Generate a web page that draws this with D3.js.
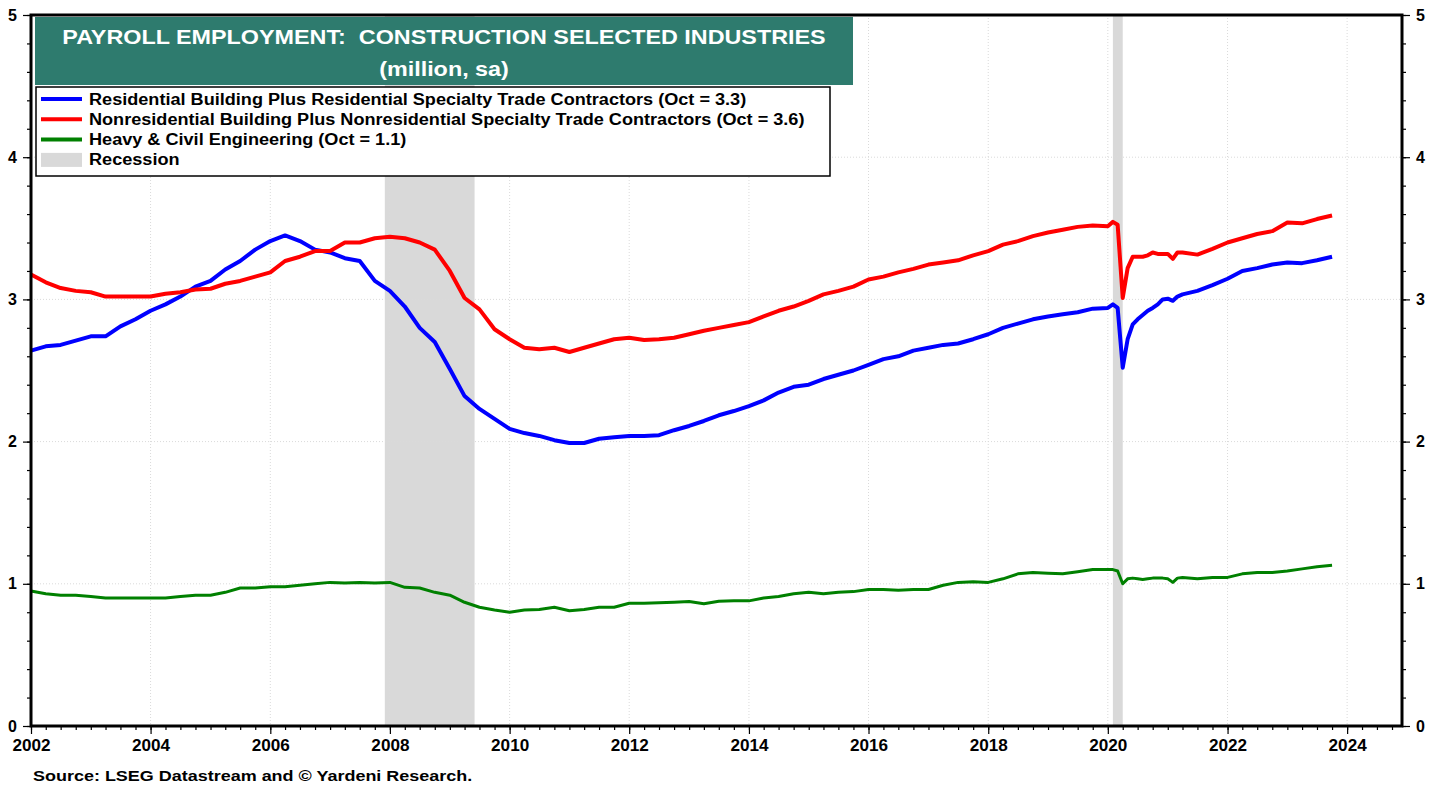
<!DOCTYPE html>
<html>
<head>
<meta charset="utf-8">
<script src="https://cdn.jsdelivr.net/npm/d3@7/dist/d3.min.js"></script>
<style>
  html, body { margin: 0; padding: 0; background: #fff; }
  svg { display: block; font-family: "Liberation Sans", Arial, sans-serif; }
  .tick text { font-weight: bold; font-size: 16px; fill: #000; }
</style>
</head>
<body>
<svg id="chart" width="1443" height="787"></svg>
<script>
// ---- data (million, sa) ----
// quarterly 2002-2019, monthly through the 2020 dip, then quarterly to Oct 2023
const dates = [
  "2002-01","2002-04","2002-07","2002-10","2003-01","2003-04","2003-07","2003-10",
  "2004-01","2004-04","2004-07","2004-10","2005-01","2005-04","2005-07","2005-10",
  "2006-01","2006-04","2006-07","2006-10","2007-01","2007-04","2007-07","2007-10",
  "2008-01","2008-04","2008-07","2008-10","2009-01","2009-04","2009-07","2009-10",
  "2010-01","2010-04","2010-07","2010-10","2011-01","2011-04","2011-07","2011-10",
  "2012-01","2012-04","2012-07","2012-10","2013-01","2013-04","2013-07","2013-10",
  "2014-01","2014-04","2014-07","2014-10","2015-01","2015-04","2015-07","2015-10",
  "2016-01","2016-04","2016-07","2016-10","2017-01","2017-04","2017-07","2017-10",
  "2018-01","2018-04","2018-07","2018-10","2019-01","2019-04","2019-07","2019-10",
  "2020-01","2020-02","2020-03","2020-04","2020-05","2020-06","2020-07","2020-08",
  "2020-09","2020-10","2020-11","2020-12","2021-01","2021-02","2021-03","2021-04",
  "2021-07","2021-10","2022-01","2022-04","2022-07","2022-10",
  "2023-01","2023-04","2023-07","2023-10"
];

const residential = [
  2.64, 2.67, 2.68, 2.71, 2.74, 2.74, 2.81, 2.86,
  2.92, 2.965, 3.02, 3.09, 3.13, 3.21, 3.27, 3.35,
  3.41, 3.45, 3.41, 3.35, 3.33, 3.29, 3.27, 3.13,
  3.06, 2.95, 2.80, 2.70, 2.51, 2.32, 2.23, 2.16,
  2.09, 2.06, 2.04, 2.01, 1.99, 1.99, 2.02, 2.03,
  2.04, 2.04, 2.045, 2.08, 2.11, 2.145, 2.185, 2.215,
  2.25, 2.29, 2.345, 2.385, 2.40, 2.44, 2.47, 2.50,
  2.54, 2.58, 2.60, 2.64, 2.66, 2.68, 2.69, 2.72,
  2.755, 2.80, 2.83, 2.86, 2.88, 2.895, 2.91, 2.935,
  2.94, 2.965, 2.94, 2.52, 2.72, 2.825, 2.86, 2.89,
  2.92, 2.94, 2.965, 3.0, 3.005, 2.99, 3.02, 3.035,
  3.06, 3.10, 3.145, 3.20, 3.22, 3.245,
  3.26, 3.255, 3.275, 3.30
];

const nonresidential = [
  3.175, 3.12, 3.08, 3.06, 3.05, 3.02, 3.02, 3.02,
  3.02, 3.04, 3.05, 3.07, 3.075, 3.11, 3.13, 3.16,
  3.19, 3.27, 3.30, 3.34, 3.34, 3.40, 3.40, 3.43,
  3.44, 3.43, 3.40, 3.35, 3.20, 3.01, 2.93, 2.79,
  2.72, 2.66, 2.65, 2.66, 2.63, 2.66, 2.69, 2.72,
  2.73, 2.715, 2.72, 2.73, 2.755, 2.78, 2.80, 2.82,
  2.84, 2.88, 2.92, 2.95, 2.99, 3.035, 3.06, 3.09,
  3.14, 3.16, 3.19, 3.215, 3.245, 3.26, 3.275, 3.31,
  3.34, 3.385, 3.41, 3.445, 3.47, 3.49, 3.51, 3.52,
  3.515, 3.545, 3.525, 3.01, 3.22, 3.30, 3.30, 3.30,
  3.31, 3.33, 3.32, 3.32, 3.32, 3.285, 3.33, 3.33,
  3.315, 3.355, 3.40, 3.43, 3.46, 3.48,
  3.54, 3.535, 3.565, 3.59
];

const heavyCivil = [
  0.95, 0.93, 0.92, 0.92, 0.91, 0.90, 0.90, 0.90,
  0.90, 0.90, 0.91, 0.92, 0.92, 0.94, 0.97, 0.97,
  0.98, 0.98, 0.99, 1.00, 1.01, 1.005, 1.01, 1.005,
  1.01, 0.975, 0.97, 0.94, 0.92, 0.87, 0.835, 0.816,
  0.80, 0.815, 0.82, 0.835, 0.81, 0.82, 0.835, 0.835,
  0.863, 0.863, 0.866, 0.87, 0.875, 0.86, 0.877, 0.88,
  0.88, 0.90, 0.91, 0.93, 0.94, 0.93, 0.94, 0.945,
  0.96, 0.96, 0.955, 0.96, 0.96, 0.99, 1.01, 1.015,
  1.01, 1.035, 1.07, 1.08, 1.075, 1.07, 1.085, 1.10,
  1.10, 1.10, 1.09, 1.00, 1.035, 1.04, 1.035, 1.03,
  1.035, 1.04, 1.04, 1.04, 1.035, 1.01, 1.04, 1.045,
  1.035, 1.045, 1.045, 1.07, 1.08, 1.08,
  1.09, 1.105, 1.12, 1.13
];

const recessions = [["2007-12", "2009-06"], ["2020-02", "2020-04"]];

const yTicks = [0, 1, 2, 3, 4, 5];

const seriesNames = [
  "Residential Building Plus Residential Specialty Trade Contractors (Oct = 3.3)",
  "Nonresidential Building Plus Nonresidential Specialty Trade Contractors (Oct = 3.6)",
  "Heavy & Civil Engineering (Oct = 1.1)"
];
const seriesColors = ["#0000ff", "#ff0000", "#008000"];
const seriesWidths = [4, 4, 3];

// ---- layout ----
const plot = { left: 31, right: 1402, top: 15, bottom: 726 };
const parseMonth = d3.timeParse("%Y-%m");
// the reference fonts are drawn a bit wider than Liberation Sans
const STRETCH_TITLE = 1.167;
const STRETCH_LEGEND = 1.131;
const STRETCH_SOURCE = 1.159;
const STRETCH_TICK = 1.07;

function stretch(sel, k) {
  sel.each(function () {
    const w = this.getComputedTextLength();
    d3.select(this)
      .attr("textLength", w * k)
      .attr("lengthAdjust", "spacingAndGlyphs");
  });
}

const svg = d3.select("#chart");

const x = d3.scaleTime()
  .domain([new Date(2002, 0, 1), new Date(2024, 11, 1)])
  .range([plot.left, plot.right]);

const y = d3.scaleLinear()
  .domain([0, 5])
  .range([plot.bottom, plot.top]);

// recession shading
svg.append("g")
  .selectAll("rect")
  .data(recessions)
  .join("rect")
  .attr("x", d => x(parseMonth(d[0])))
  .attr("width", d => x(parseMonth(d[1])) - x(parseMonth(d[0])))
  .attr("y", plot.top)
  .attr("height", plot.bottom - plot.top)
  .attr("fill", "#d9d9d9");

// grid lines
const grid = svg.append("g").attr("stroke", "#dadada").attr("stroke-dasharray", "1,2");
grid.selectAll(".gx")
  .data(d3.timeYear.every(2).range(new Date(2004, 0, 1), new Date(2025, 0, 1)))
  .join("line")
  .attr("x1", d => x(d)).attr("x2", d => x(d))
  .attr("y1", plot.top).attr("y2", plot.bottom);
grid.selectAll(".gy")
  .data([1, 2, 3, 4])
  .join("line")
  .attr("x1", plot.left).attr("x2", plot.right)
  .attr("y1", d => y(d)).attr("y2", d => y(d));

// series lines
const allSeries = [residential, nonresidential, heavyCivil];
const line = d3.line()
  .x((d, i) => x(parseMonth(dates[i])))
  .y(d => y(d));

svg.append("g")
  .selectAll("path")
  .data(allSeries)
  .join("path")
  .attr("fill", "none")
  .attr("stroke", (d, i) => seriesColors[i])
  .attr("stroke-width", (d, i) => seriesWidths[i])
  .attr("stroke-linejoin", "round")
  .attr("d", line);

// ---- axes ----
// y minor ticks every 0.2
const yMinor = d3.range(0, 5.01, 0.2);
svg.append("g")
  .attr("transform", `translate(${plot.left},0)`)
  .call(d3.axisLeft(y).tickValues(yMinor).tickSize(4).tickFormat(""))
  .call(g => g.select(".domain").remove());
svg.append("g")
  .attr("transform", `translate(${plot.right},0)`)
  .call(d3.axisRight(y).tickValues(yMinor).tickSize(4).tickFormat(""))
  .call(g => g.select(".domain").remove());

svg.append("g")
  .attr("transform", `translate(${plot.left},0)`)
  .call(d3.axisLeft(y).tickValues(yTicks).tickSize(8).tickPadding(6).tickFormat(d3.format("d")))
  .call(g => g.select(".domain").remove());
svg.append("g")
  .attr("transform", `translate(${plot.right},0)`)
  .call(d3.axisRight(y).tickValues(yTicks).tickSize(8).tickPadding(6).tickFormat(d3.format("d")))
  .call(g => g.select(".domain").remove());

// x ticks: quarters, labelled every 2 years
svg.append("g")
  .attr("transform", `translate(0,${plot.bottom})`)
  .call(d3.axisBottom(x).ticks(d3.timeMonth.every(3)).tickSize(4).tickFormat(""))
  .call(g => g.select(".domain").remove());
const xAxis = svg.append("g")
  .attr("transform", `translate(0,${plot.bottom})`)
  .call(d3.axisBottom(x).ticks(d3.timeYear.every(2)).tickSize(8).tickPadding(6)
    .tickFormat(d3.timeFormat("%Y")))
  .call(g => g.select(".domain").remove());
stretch(xAxis.selectAll("text"), STRETCH_TICK);

svg.selectAll(".tick line").attr("stroke", "#000").attr("stroke-width", 1.2);

// frame
svg.append("rect")
  .attr("x", plot.left).attr("y", plot.top)
  .attr("width", plot.right - plot.left).attr("height", plot.bottom - plot.top)
  .attr("fill", "none").attr("stroke", "#000").attr("stroke-width", 3);

// ---- title box ----
svg.append("rect")
  .attr("x", 35).attr("y", 17).attr("width", 818).attr("height", 68)
  .attr("fill", "#2e7b6e");
const title = svg.append("g")
  .attr("text-anchor", "middle").attr("fill", "#fff")
  .attr("font-size", 20.5).attr("font-weight", "bold");
title.append("text")
  .attr("x", 444).attr("y", 44)
  .attr("xml:space", "preserve")
  .text("PAYROLL EMPLOYMENT:  CONSTRUCTION SELECTED INDUSTRIES");
title.append("text")
  .attr("x", 444).attr("y", 76)
  .text("(million, sa)");
stretch(title.selectAll("text"), STRETCH_TITLE * 20 / 20.5);

// ---- legend ----
const legend = svg.append("g");
legend.append("rect")
  .attr("x", 36).attr("y", 87).attr("width", 794).attr("height", 89)
  .attr("fill", "#fff").attr("stroke", "#000").attr("stroke-width", 1.5);

const legendItems = seriesNames.map((n, i) => ({ name: n, color: seriesColors[i], kind: "line" }))
  .concat([{ name: "Recession", color: "#d9d9d9", kind: "box" }]);

const rows = legend.selectAll(".row")
  .data(legendItems)
  .join("g")
  .attr("transform", (d, i) => `translate(0,${99 + i * 20.3})`);

rows.filter(d => d.kind === "line").append("line")
  .attr("x1", 41).attr("x2", 82).attr("y1", 0).attr("y2", 0)
  .attr("stroke", d => d.color).attr("stroke-width", 4);
rows.filter(d => d.kind === "box").append("rect")
  .attr("x", 41).attr("y", -7).attr("width", 41).attr("height", 14)
  .attr("fill", d => d.color);
rows.append("text")
  .attr("x", 89).attr("y", 5.5)
  .attr("font-size", 16).attr("font-weight", "bold")
  .text(d => d.name);
stretch(rows.selectAll("text"), STRETCH_LEGEND);

// ---- source ----
svg.append("text")
  .attr("x", 33).attr("y", 781)
  .attr("font-size", 15.5).attr("font-weight", "bold")
  .text("Source: LSEG Datastream and \u00a9 Yardeni Research.")
  .call(s => stretch(s, STRETCH_SOURCE));
</script>
</body>
</html>
